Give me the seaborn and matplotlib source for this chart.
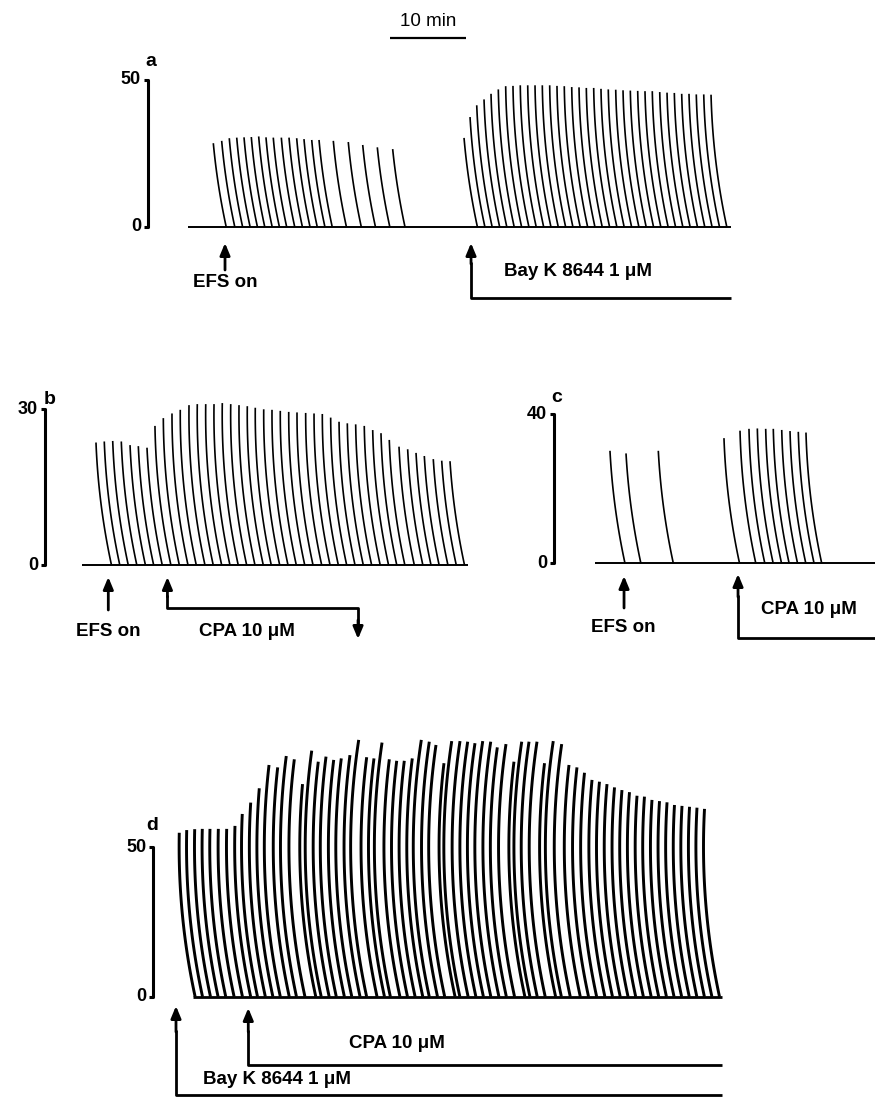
import numpy as np
import pandas as pd
import seaborn as sns
from matplotlib import pyplot as plt

# ---- data ----
# peak times are in min from the start of each trace, tensions in the bar units

# a: EFS alone, then Bay K 8644
a_peak_t = [3.33, 4.43, 5.43, 6.41, 7.37, 8.33, 9.30, 10.26, 11.22, 12.28, 13.29, 14.30, 15.26,
            16.28, 17.24, 19.12, 21.09, 22.99, 24.91, 26.93,
            36.32, 37.11, 37.99, 38.95, 39.87, 40.83, 41.80, 42.76, 43.72, 44.70, 45.66, 46.62,
            47.59, 48.55, 49.51, 50.49, 51.45, 52.41, 53.38, 54.34, 55.30, 56.28, 57.24, 58.20,
            59.17, 60.13, 61.09, 62.07, 63.03, 63.99, 64.96, 65.92, 66.88, 67.86, 68.82]
a_peak_h = [28.5, 29.3, 30.2, 30.4, 30.5, 30.6, 30.8, 30.5, 30.4, 30.4, 30.4, 30.2, 29.9,
            29.6, 29.6, 29.3, 28.9, 27.9, 27.1, 26.5,
            30.3, 37.4, 41.4, 43.4, 45.3, 46.8, 47.9, 48.0, 48.2, 48.2, 48.2, 48.2,
            48.2, 48.0, 47.9, 47.6, 47.5, 47.3, 47.3, 47.0, 46.8, 46.7, 46.5, 46.4,
            46.3, 46.2, 46.2, 45.9, 45.7, 45.6, 45.3, 45.3, 45.1, 45.1, 45.0]
a_events = {'EFS on': 4.87, 'Bay K 8644 1 μM': 37.24}
a_end = 71.45
a_scale = 50

# b: EFS, then CPA on and off
b_peak_t = [1.88, 2.97, 4.08, 5.21, 6.36, 7.45, 8.59, 9.64, 10.74, 11.88, 12.97, 14.12, 15.21,
            16.32, 17.41, 18.50, 19.61, 20.70, 21.79, 22.84, 23.95, 25.04, 26.13, 27.24,
            28.33, 29.47, 30.57, 31.66, 32.76, 33.86, 34.95, 36.05, 37.18, 38.29, 39.38,
            40.47, 41.75, 42.89, 43.99, 45.08, 46.26, 47.37, 48.46]
b_peak_h = [23.6, 23.8, 23.9, 23.8, 23.1, 22.9, 22.6, 26.8, 28.3, 29.2, 29.9, 30.8, 31.0,
            31.0, 31.0, 31.2, 31.0, 30.8, 30.6, 30.3, 30.0, 29.9, 29.7, 29.5,
            29.4, 29.3, 29.2, 29.1, 28.4, 27.6, 27.3, 27.1, 26.8, 26.0, 25.4,
            24.1, 22.8, 22.3, 21.6, 21.0, 20.4, 20.1, 20.0]
b_events = {'EFS on': 3.5, 'CPA on': 11.28, 'CPA off': 36.36}
b_end = 50.83
b_scale = 30

# c: a few EFS twitches, then CPA
c_peak_t = [1.97, 4.08, 8.33, 16.97, 19.08, 20.26, 21.36, 22.46, 23.46, 24.57, 25.66, 26.75, 27.76]
c_peak_h = [30.2, 29.5, 30.2, 33.6, 35.6, 36.1, 36.2, 36.1, 36.1, 35.8, 35.5, 35.3, 35.1]
c_events = {'EFS on': 3.82, 'CPA 10 μM': 18.82}
c_end = 36.84
c_scale = 40

# d: Bay K 8644 present, CPA added
d_peak_t = [0.43, 1.41, 2.46, 3.46, 4.47, 5.57, 6.67, 7.76, 8.72, 9.83, 10.96, 12.24, 13.38,
            14.51, 15.57, 16.65, 17.86, 18.72, 19.74, 20.75, 21.75, 22.89, 24.04, 25.09,
            26.05, 27.11, 28.07, 29.04, 30.04, 31.09, 32.28, 33.33, 34.21, 35.26, 36.28,
            37.37, 38.38, 39.34, 40.36, 41.41, 42.28, 43.42, 44.47, 45.49, 46.45, 47.50,
            48.49, 49.64, 50.75, 51.71, 52.76, 53.75, 54.74, 55.72, 56.71, 57.70, 58.68,
            59.67, 60.66, 61.64, 62.63, 63.62, 64.61, 65.59, 66.58, 67.57, 68.55, 69.54]
d_peak_h = [54.9, 55.8, 56.1, 56.2, 56.2, 56.2, 56.2, 57.2, 61.2, 65.0, 69.8, 77.6, 76.8,
            80.6, 79.5, 71.2, 82.4, 78.7, 80.4, 79.3, 79.8, 80.9, 86.0, 80.2,
            79.8, 85.1, 79.5, 79.0, 79.0, 79.8, 86.0, 85.4, 84.3, 78.2, 85.6,
            85.6, 85.4, 84.9, 85.6, 85.4, 83.5, 84.6, 78.7, 85.4, 85.4, 85.4,
            78.2, 85.6, 84.6, 77.6, 76.8, 75.0, 72.6, 72.0, 71.2, 70.1, 69.2,
            68.5, 67.3, 67.0, 65.9, 65.5, 65.1, 64.2, 63.9, 63.6, 63.3, 62.9]
d_events = {'Bay K 8644 1 μM': 0.0, 'CPA 10 μM': 9.51}
d_start, d_end = 2.28, 71.84
d_scale = 50

# ---- paper geometry ----
W, H = 875, 1100
S = 7.6                      # px of chart paper per minute
R_ARC, Y_ARC = 711.0, 150.0  # curvilinear pen arc, px


def arc_off(y):
    return np.sqrt(R_ARC ** 2 - (y - Y_ARC) ** 2) - np.sqrt(R_ARC ** 2 - Y_ARC ** 2)


def twitch_frame(peak_t, peak_h, ppu):
    parts = []
    for i, (t, h) in enumerate(zip(peak_t, peak_h)):
        yy = np.linspace(h * ppu, 0, 40)
        xx = t * S + arc_off(h * ppu) - arc_off(yy)
        parts.append(pd.DataFrame({'t': xx / S, 'tension': yy / ppu, 'twitch': i}))
    return pd.concat(parts, ignore_index=True)


sns.set_theme(style='white')
plt.rcParams['font.family'] = ['Liberation Sans', 'DejaVu Sans']
plt.rcParams['text.color'] = 'black'
plt.rcParams['lines.solid_capstyle'] = 'butt'

fig = plt.figure(figsize=(W / 100, H / 100), dpi=100)


def make_panel(box, x0, zero, ppu):
    l, r, t, b = box
    ax = fig.add_axes([l / W, 1 - b / H, (r - l) / W, (b - t) / H])
    ax.set_xlim((l - x0) / S, (r - x0) / S)
    ax.set_ylim((zero - b) / ppu, (zero - t) / ppu)
    ax.axis('off')
    return ax, (lambda xp: (xp - x0) / S), (lambda yp: (zero - yp) / ppu)


def draw_traces(ax, peak_t, peak_h, ppu, lw):
    df = twitch_frame(peak_t, peak_h, ppu)
    sns.lineplot(data=df, x='t', y='tension', units='twitch', estimator=None, sort=False,
                 color='black', lw=lw, legend=False, ax=ax)
    ax.set_xlabel('')
    ax.set_ylabel('')


def tension_bar(ax, fx, xbar, top, letter, letter_xy):
    hook = 4 / S
    ax.plot([xbar - hook, xbar, xbar, xbar - hook], [top, top, 0, 0], color='black', lw=2.2)
    ax.text(xbar - 7 / S, top, str(top), ha='right', va='center', fontsize=13, fontweight='bold')
    ax.text(xbar - 7 / S, 0, '0', ha='right', va='center', fontsize=13, fontweight='bold')
    ax.text(letter_xy[0], letter_xy[1], letter, ha='center', va='center', fontsize=14,
            fontweight='bold')


def arrow(ax, t, y_from, y_to, lw=2.0):
    ax.annotate('', xy=(t, y_to), xytext=(t, y_from),
                arrowprops=dict(arrowstyle='-|>,head_length=0.6,head_width=0.25', color='black',
                                lw=lw, shrinkA=0, shrinkB=0))


LAB = dict(ha='center', va='center', fontsize=13.5, fontweight='bold', color='black')

# ---- a ----
ppu_a = 147 / 50
ax, fx, fy = make_panel((100, 760, 0, 310), 188, 227, ppu_a)
ax.plot([0, a_end], [0, 0], color='black', lw=1.4)
draw_traces(ax, a_peak_t, a_peak_h, ppu_a, 1.2)
tension_bar(ax, fx, fx(148), a_scale, 'a', (fx(151), fy(62)))
t_bar = fx(390)
ax.plot([t_bar, t_bar + 10], [fy(38), fy(38)], color='black', lw=1.6)
ax.text(t_bar + 5, fy(21), '10 min', ha='center', va='center', fontsize=13.5, color='black')
arrow(ax, a_events['EFS on'], fy(270), fy(243))
ax.text(fx(225), fy(283), 'EFS on', **LAB)
tb = a_events['Bay K 8644 1 μM']
ax.plot([a_end, tb, tb], [fy(298), fy(298), fy(262)], color='black', lw=2.0)
arrow(ax, tb, fy(264), fy(243))
ax.text(fx(578), fy(272), 'Bay K 8644 1 μM', **LAB)

# ---- b ----
ppu_b = 155.7 / 30
ax, fx, fy = make_panel((0, 500, 385, 650), 81.7, 565, ppu_b)
ax.plot([0, b_end], [0, 0], color='black', lw=1.4)
draw_traces(ax, b_peak_t, b_peak_h, ppu_b, 1.2)
tension_bar(ax, fx, fx(45), b_scale, 'b', (fx(50), fy(399)))
arrow(ax, b_events['EFS on'], fy(610), fy(577))
ax.text(fx(108), fy(631), 'EFS on', **LAB)
t_on, t_off = b_events['CPA on'], b_events['CPA off']
ax.plot([t_on, t_on, t_off, t_off], [fy(595), fy(608), fy(608), fy(625)], color='black', lw=2.0)
arrow(ax, t_on, fy(597), fy(577))
arrow(ax, t_off, fy(620), fy(639))
ax.text(fx(247), fy(631), 'CPA 10 μM', **LAB)

# ---- c ----
ppu_c = 149 / 40
ax, fx, fy = make_panel((520, 875, 385, 650), 595, 563.3, ppu_c)
ax.plot([0, c_end], [0, 0], color='black', lw=1.4)
draw_traces(ax, c_peak_t, c_peak_h, ppu_c, 1.2)
tension_bar(ax, fx, fx(554.3), c_scale, 'c', (fx(557), fy(397)))
arrow(ax, c_events['EFS on'], fy(608), fy(576))
ax.text(fx(623), fy(627), 'EFS on', **LAB)
tc = c_events['CPA 10 μM']
ax.plot([c_end, tc, tc], [fy(638), fy(638), fy(595)], color='black', lw=2.0)
arrow(ax, tc, fy(597), fy(574))
ax.text(fx(809), fy(609), 'CPA 10 μM', **LAB)

# ---- d ----
ppu_d = 149.3 / 50
ax, fx, fy = make_panel((100, 760, 720, 1100), 176, 996.7, ppu_d)
ax.plot([d_start, d_end], [0, 0], color='black', lw=2.0)
draw_traces(ax, d_peak_t, d_peak_h, ppu_d, 2.1)
tension_bar(ax, fx, fx(153.3), d_scale, 'd', (fx(152), fy(826)))
tk = d_events['Bay K 8644 1 μM']
ax.plot([d_end, tk, tk], [fy(1095), fy(1095), fy(1030)], color='black', lw=2.0)
arrow(ax, tk, fy(1032), fy(1006))
ax.text(fx(277), fy(1079), 'Bay K 8644 1 μM', **LAB)
tc = d_events['CPA 10 μM']
ax.plot([d_end, tc, tc], [fy(1065), fy(1065), fy(1030)], color='black', lw=2.0)
arrow(ax, tc, fy(1032), fy(1008))
ax.text(fx(397), fy(1044), 'CPA 10 μM', **LAB)

fig.savefig('out.png', dpi=100)
